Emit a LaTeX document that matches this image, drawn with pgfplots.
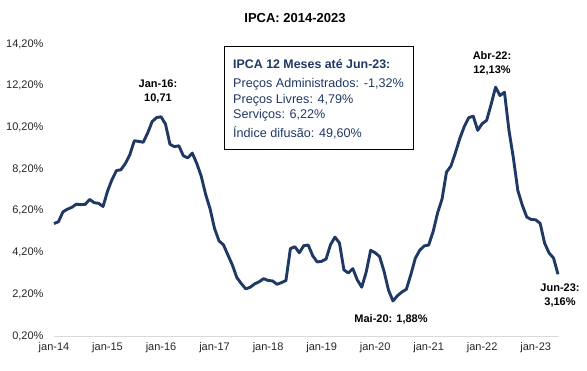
\documentclass[border=0pt]{standalone}
\usepackage{pgfplots}
\pgfplotsset{compat=1.18}
\usepackage{fontspec}
\setmainfont{Liberation Sans}
\definecolor{navy}{RGB}{31,56,100}
\definecolor{axgray}{RGB}{217,217,217}
\definecolor{txt}{RGB}{38,38,38}
\begin{document}
\begin{tikzpicture}
\path[use as bounding box] (0pt,0pt) rectangle (587pt,-370pt);
\begin{axis}[
  at={(54pt,-336pt)}, anchor=south west,
  scale only axis, width=504pt, height=292pt,
  xmin=0, xmax=113, ymin=0.2, ymax=14.2,
  axis x line*=bottom, axis y line*=left,
  x axis line style={axgray, line width=1pt, -},
  y axis line style={draw=none},
  major tick length=0pt,
  xtick={0,12,24,36,48,60,72,84,96,108},
  xticklabels={jan-14,jan-15,jan-16,jan-17,jan-18,jan-19,jan-20,jan-21,jan-22,jan-23},
  ytick={0.2,2.2,4.2,6.2,8.2,10.2,12.2,14.2},
  yticklabels={{0,20\%},{2,20\%},{4,20\%},{6,20\%},{8,20\%},{10,20\%},{12,20\%},{14,20\%}},
  tick label style={font=\fontsize{11}{13}\selectfont, text=txt},
  xticklabel style={yshift=-3pt},
  yticklabel style={xshift=-7pt},
  clip=false,
]
\addplot[navy, line width=2.9pt, line join=round] coordinates {
(0,5.59)(1,5.68)(2,6.15)(3,6.28)(4,6.37)(5,6.52)(6,6.50)(7,6.51)(8,6.75)(9,6.59)(10,6.56)(11,6.41)
(12,7.14)(13,7.70)(14,8.13)(15,8.17)(16,8.47)(17,8.89)(18,9.56)(19,9.53)(20,9.49)(21,9.93)(22,10.48)(23,10.67)
(24,10.71)(25,10.36)(26,9.39)(27,9.28)(28,9.32)(29,8.84)(30,8.74)(31,8.97)(32,8.48)(33,7.87)(34,6.99)(35,6.29)
(36,5.35)(37,4.76)(38,4.57)(39,4.08)(40,3.60)(41,3.00)(42,2.71)(43,2.46)(44,2.54)(45,2.70)(46,2.80)(47,2.95)
(48,2.86)(49,2.84)(50,2.68)(51,2.76)(52,2.86)(53,4.39)(54,4.48)(55,4.19)(56,4.53)(57,4.56)(58,4.05)(59,3.75)
(60,3.78)(61,3.89)(62,4.58)(63,4.94)(64,4.66)(65,3.37)(66,3.22)(67,3.43)(68,2.89)(69,2.54)(70,3.27)(71,4.31)
(72,4.19)(73,4.01)(74,3.30)(75,2.40)(76,1.88)(77,2.13)(78,2.31)(79,2.44)(80,3.14)(81,3.92)(82,4.31)(83,4.52)
(84,4.56)(85,5.20)(86,6.10)(87,6.76)(88,8.06)(89,8.35)(90,8.99)(91,9.68)(92,10.25)(93,10.67)(94,10.74)(95,10.06)
(96,10.38)(97,10.54)(98,11.30)(99,12.13)(100,11.73)(101,11.89)(102,10.07)(103,8.73)(104,7.17)(105,6.47)(106,5.90)(107,5.79)
(108,5.77)(109,5.60)(110,4.65)(111,4.18)(112,3.94)(113,3.16)
};
\end{axis}
\node[font=\bfseries\fontsize{13}{15}\selectfont, text=black] at (295pt,-18pt) {IPCA: 2014-2023};
\node[font=\bfseries\fontsize{11}{14}\selectfont, align=center, text=black] at (158pt,-92pt) {Jan-16:\\10,71};
\node[font=\bfseries\fontsize{11}{14}\selectfont, align=center, text=black] at (492pt,-63pt) {Abr-22:\\12,13\%};
\node[font=\bfseries\fontsize{11}{14}\selectfont, text=black] at (391pt,-319pt) {Mai-20: 1,88\%};
\node[font=\bfseries\fontsize{11}{14}\selectfont, align=center, text=black] at (560pt,-296pt) {Jun-23:\\3,16\%};
\draw[black, line width=0.9pt] (224pt,-46pt) rectangle (413pt,-149pt);
\node[anchor=west, font=\bfseries\fontsize{12.4}{14}\selectfont, text=navy, inner sep=0pt] at (233pt,-64pt) {IPCA 12 Meses até Jun-23:};
\node[anchor=west, font=\fontsize{12.6}{14}\selectfont, text=navy, inner sep=0pt] at (233pt,-84pt) {Preços Administrados: -1,32\%};
\node[anchor=west, font=\fontsize{12.6}{14}\selectfont, text=navy, inner sep=0pt] at (233pt,-100pt) {Preços Livres: 4,79\%};
\node[anchor=west, font=\fontsize{12.6}{14}\selectfont, text=navy, inner sep=0pt] at (233pt,-115pt) {Serviços: 6,22\%};
\node[anchor=west, font=\fontsize{12.6}{14}\selectfont, text=navy, inner sep=0pt] at (233pt,-133pt) {Índice difusão: 49,60\%};
\end{tikzpicture}
\end{document}
